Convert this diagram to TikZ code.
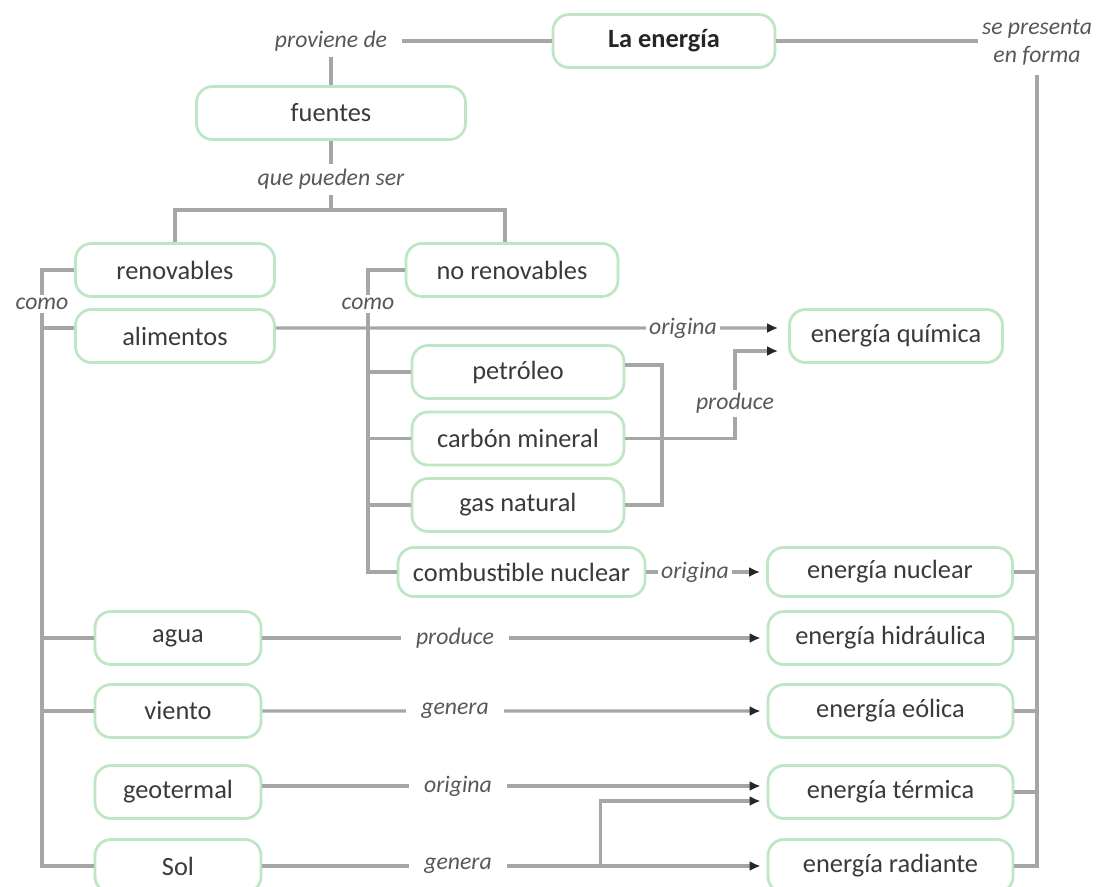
\documentclass[tikz,border=0pt]{standalone}
\usepackage{fontspec}
\setmainfont{Carlito}
\usepackage{tikz}
\usetikzlibrary{arrows.meta,positioning}
\definecolor{boxgreen}{RGB}{190,230,194}
\definecolor{linegray}{RGB}{166,166,166}
\definecolor{textgray}{RGB}{58,58,58}
\definecolor{labelgray}{RGB}{88,88,88}

\begin{document}
\begin{tikzpicture}[
  scale=1.0,
  transform shape,
  node distance=13.3mm
]

  \path[use as bounding box] (0mm,0mm) rectangle (219.8mm,-177.4mm);

  \tikzstyle{conceptnode}=[draw=boxgreen,rectangle,rounded corners=3.2mm,line width=0.55mm,minimum height=10.6mm,inner sep=1mm,text=textgray,font=\fontsize{15pt}{18pt}\selectfont]
  \tikzstyle{linktext}=[inner xsep=3mm,inner ysep=1mm,text=labelgray,font=\itshape\fontsize{13.5pt}{16pt}\selectfont]
  \tikzstyle{linktexttight}=[linktext,inner xsep=0.6mm,inner ysep=0.6mm]

  \tikzstyle{connector}=[draw=linegray,line width=0.65mm]
  \tikzstyle{pointer}=[connector,-{Latex[length=2.2mm,width=2mm,color=black!85]},shorten >=1.2mm]


  % nodes
  \node[conceptnode,minimum width=44.4mm,text=black!85,font=\bfseries\fontsize{15pt}{18pt}\selectfont] (energia) at (132.8mm,-8.2mm) {La energía};
  \node[conceptnode,minimum width=53.8mm] (fuentes) at (66.2mm,-22.6mm) {fuentes};

  \node[conceptnode,minimum width=39.8mm] (renovables) at (35mm,-54mm) {renovables};
  \node[conceptnode,minimum width=42.4mm] (norenovables) at (102.4mm,-54mm) {no renovables};
  \node[conceptnode,minimum width=39.8mm] (alimentos) at (35mm,-67.2mm) {alimentos};

  \node[conceptnode,minimum width=42.4mm] (petroleo) at (103.6mm,-74.4mm) {petróleo};
  \node[conceptnode,minimum width=42.4mm] (carbon) [below of=petroleo] {carbón mineral};
  \node[conceptnode,minimum width=42.4mm] (gas) [below of=carbon] {gas natural};
  \node[conceptnode,minimum width=49.4mm,minimum height=9.8mm] (combustible) at (104.3mm,-114.4mm) {combustible nuclear};

  \node[conceptnode,minimum width=42.6mm] (quimica) at (179.2mm,-67.2mm) {energía química};
  \node[conceptnode,minimum width=49mm,minimum height=9.8mm] (nuclear) at (178mm,-114.4mm) {energía nuclear};
  \node[conceptnode,minimum width=49mm] (hidraulica) at (178.1mm,-127.6mm) {energía hidráulica};
  \node[conceptnode,minimum width=49mm,node distance=14.6mm] (eolica) [below of=hidraulica] {energía eólica};
  \node[conceptnode,minimum width=49mm] (termica) at (178.1mm,-158.4mm) {energía térmica};
  \node[conceptnode,minimum width=49mm] (radiante) at (178.1mm,-173.2mm) {energía radiante};

  \node[conceptnode,minimum width=33.2mm] (agua) at (35.6mm,-127.6mm) {agua};
  \node[conceptnode,minimum width=33.2mm,node distance=14.6mm] (viento) [below of=agua] {viento};
  \node[conceptnode,minimum width=33.2mm] (geotermal) at (35.6mm,-158.4mm) {geotermal};
  \node[conceptnode,minimum width=33.2mm] (sol) at (35.6mm,-173.2mm) {Sol};

  % link labels
  \node[linktext] (proviene) at (66.2mm,-8.2mm) {proviene de};
  \node[linktext,align=center,inner xsep=0.8mm,inner ysep=2mm] (sepresenta) at (207.4mm,-8.4mm) {se presenta\\en forma};
  \node[linktext] (pueden) at (66.2mm,-35.8mm) {que pueden ser};
  \coordinate (split) at (66.2mm,-42mm);
  \node[linktexttight] (como1) at (8.4mm,-60.8mm) {como};
  \node[linktexttight] (como2) at (73.6mm,-60.8mm) {como};
  \node[linktexttight] (origina1) at (136.6mm,-65.6mm) {origina};
  \node[linktexttight] (produce1) at (147mm,-80.6mm) {produce};
  \node[linktexttight] (origina2) at (139mm,-114.4mm) {origina};
  \node[linktext] (produce2) at (91mm,-127.6mm) {produce};
  \node[linktext] (genera1) at (91mm,-142.2mm) {genera};
  \node[linktext] (origina3) at (91.6mm,-157.2mm) {origina};
  \node[linktext] (genera2) at (91.6mm,-173.2mm) {genera};
  \coordinate (fossilfork) at (132.4mm,-80mm);

  % top of the map
  \draw[connector] (energia) -- (proviene);
  \draw[connector] (proviene) -- (fuentes);
  \draw[connector] (energia.east) -- (energia.east -| sepresenta.west);
  \draw[connector] (sepresenta.south) |- (radiante.east);
  \foreach \n in {nuclear,hidraulica,eolica,termica}
    \draw[connector] (\n.east) -- (\n.east -| sepresenta.south);

  \draw[connector] (fuentes) -- (pueden);
  \draw[connector] (pueden) -- (split);
  \draw[connector] (renovables.north) |- (split) -| ([xshift=-1.4mm]norenovables.north);

  % renovables
  \draw[connector] (renovables.west) -| (como1.north);
  \draw[connector] (como1.south) |- (sol.west);
  \draw[connector] ([yshift=1.6mm]alimentos.west) -- ([yshift=1.6mm]alimentos.west -| como1.south);
  \foreach \n in {agua,viento}
    \draw[connector] (\n.west) -- (\n.west -| como1.south);

  % no renovables
  \draw[connector] (norenovables.west) -| (como2.north);
  \draw[connector] (como2.south) |- (combustible.west);
  \foreach \n in {petroleo,carbon,gas}
    \draw[connector] (\n.west) -- (\n.west -| como2.south);

  % pointers
  \draw[connector] ([yshift=1.6mm]alimentos.east) -- (origina1);
  \draw[pointer,shorten >=2mm] (origina1) -- ([yshift=1.6mm]quimica.west);

  \draw[connector] ([yshift=1.4mm]petroleo.east) -| (fossilfork) |- (gas.east);
  \draw[connector] (carbon.east) -| (produce1.south);
  \draw[pointer,shorten >=2mm] (produce1.north) |- ([yshift=-3mm]quimica.west);

  \draw[connector] (combustible) -- (origina2);
  \draw[pointer] (origina2) -- (nuclear);

  \draw[connector] (agua) -- (produce2);
  \draw[pointer] (produce2) -- (hidraulica);
  \draw[connector] (viento) -- (genera1);
  \draw[pointer] (genera1) -- (eolica);
  \draw[connector] ([yshift=1.2mm]geotermal.east) -- (origina3);
  \draw[pointer] (origina3) -- ([yshift=1.2mm]termica.west);
  \draw[connector] (sol) -- (genera2);
  \draw[pointer] (genera2) -- coordinate[pos=0.36] (solfork) (radiante);
  \draw[pointer] (solfork) |- ([yshift=-1.8mm]termica.west);

\end{tikzpicture}
\end{document}
